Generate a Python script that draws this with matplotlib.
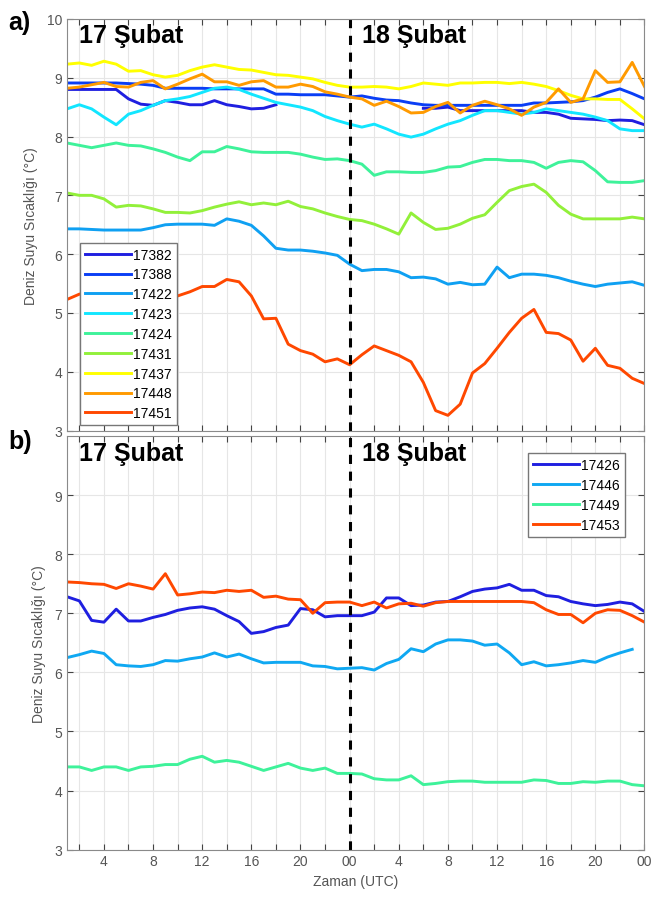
import matplotlib.pyplot as plt
import numpy as np

plt.rcParams['font.family'] = ['Liberation Sans', 'DejaVu Sans']

nan = np.nan
saat = np.arange(1, 49)

# panel a
s17382 = [8.80, 8.80, 8.80, 8.80, 8.80, 8.64, 8.55, 8.53, 8.61, 8.58, 8.54, 8.54, 8.61, 8.54, 8.51, 8.47,
          8.48, 8.54, nan, nan, nan, nan, nan, nan, nan, nan, nan, nan, nan, 8.48, 8.48, 8.50,
          8.44, 8.44, 8.44, 8.44, 8.44, 8.44, 8.41, 8.41, 8.38, 8.31, 8.30, 8.29, 8.27, 8.28, 8.27, 8.20]
s17388 = [8.91, 8.91, 8.91, 8.91, 8.91, 8.90, 8.89, 8.87, 8.82, 8.82, 8.82, 8.82, 8.81, 8.81, 8.81, 8.81,
          8.81, 8.72, 8.72, 8.71, 8.71, 8.71, 8.69, 8.67, 8.69, 8.65, 8.62, 8.61, 8.57, 8.54, 8.53, 8.53,
          8.53, 8.53, 8.53, 8.53, 8.53, 8.53, 8.57, 8.57, 8.58, 8.59, 8.61, 8.67, 8.75, 8.81, 8.73, 8.64]
s17422 = [6.43, 6.43, 6.42, 6.41, 6.41, 6.41, 6.41, 6.45, 6.50, 6.51, 6.51, 6.51, 6.49, 6.60, 6.56, 6.49,
          6.31, 6.10, 6.07, 6.07, 6.05, 6.02, 5.98, 5.83, 5.72, 5.74, 5.74, 5.70, 5.60, 5.61, 5.58, 5.49,
          5.52, 5.48, 5.49, 5.78, 5.60, 5.66, 5.66, 5.64, 5.60, 5.54, 5.49, 5.45, 5.49, 5.51, 5.53, 5.47]
s17423 = [8.47, 8.54, 8.47, 8.33, 8.20, 8.38, 8.44, 8.53, 8.61, 8.64, 8.68, 8.75, 8.82, 8.84, 8.80, 8.72,
          8.65, 8.58, 8.54, 8.50, 8.44, 8.34, 8.27, 8.21, 8.16, 8.21, 8.13, 8.04, 7.99, 8.04, 8.13, 8.21,
          8.27, 8.36, 8.44, 8.44, 8.41, 8.38, 8.41, 8.47, 8.44, 8.41, 8.38, 8.33, 8.27, 8.13, 8.10, 8.10]
s17424 = [7.89, 7.85, 7.81, 7.85, 7.89, 7.85, 7.84, 7.79, 7.73, 7.65, 7.59, 7.74, 7.74, 7.83, 7.79, 7.74,
          7.73, 7.73, 7.73, 7.70, 7.65, 7.61, 7.62, 7.59, 7.53, 7.34, 7.40, 7.40, 7.39, 7.39, 7.42, 7.48,
          7.49, 7.56, 7.61, 7.61, 7.59, 7.59, 7.56, 7.46, 7.56, 7.59, 7.57, 7.42, 7.23, 7.22, 7.22, 7.25]
s17431 = [7.04, 7.00, 7.00, 6.94, 6.80, 6.83, 6.82, 6.77, 6.71, 6.71, 6.70, 6.74, 6.80, 6.85, 6.89, 6.84,
          6.87, 6.84, 6.90, 6.81, 6.77, 6.70, 6.64, 6.59, 6.57, 6.51, 6.43, 6.34, 6.70, 6.54, 6.42, 6.44,
          6.51, 6.61, 6.67, 6.88, 7.08, 7.15, 7.19, 7.05, 6.83, 6.68, 6.60, 6.60, 6.60, 6.60, 6.63, 6.60]
s17437 = [9.23, 9.25, 9.21, 9.28, 9.23, 9.11, 9.12, 9.05, 9.01, 9.04, 9.12, 9.18, 9.22, 9.18, 9.14, 9.13,
          9.09, 9.05, 9.04, 9.01, 8.98, 8.92, 8.87, 8.84, 8.84, 8.85, 8.84, 8.81, 8.85, 8.91, 8.89, 8.87,
          8.91, 8.91, 8.92, 8.92, 8.90, 8.92, 8.89, 8.85, 8.78, 8.70, 8.64, 8.64, 8.63, 8.63, 8.47, 8.30]
s17448 = [8.82, 8.84, 8.88, 8.92, 8.85, 8.84, 8.92, 8.95, 8.81, 8.89, 8.98, 9.06, 8.93, 8.93, 8.87, 8.93,
          8.95, 8.84, 8.84, 8.89, 8.85, 8.76, 8.72, 8.67, 8.64, 8.53, 8.60, 8.51, 8.40, 8.41, 8.51, 8.58,
          8.40, 8.53, 8.60, 8.54, 8.47, 8.36, 8.50, 8.58, 8.81, 8.58, 8.64, 9.12, 8.92, 8.93, 9.26, 8.85]
s17451 = [5.23, 5.32, 5.35, 5.30, 5.26, 5.22, 5.20, 5.20, 5.23, 5.29, 5.36, 5.45, 5.45, 5.57, 5.53, 5.29,
          4.90, 4.91, 4.47, 4.36, 4.30, 4.17, 4.22, 4.12, 4.29, 4.44, 4.36, 4.28, 4.17, 3.82, 3.34, 3.26,
          3.45, 3.98, 4.14, 4.40, 4.67, 4.91, 5.06, 4.67, 4.65, 4.54, 4.18, 4.40, 4.11, 4.06, 3.89, 3.80]

# panel b
s17426 = [7.28, 7.21, 6.88, 6.85, 7.07, 6.87, 6.87, 6.93, 6.98, 7.05, 7.09, 7.11, 7.07, 6.96, 6.86, 6.66,
          6.69, 6.76, 6.80, 7.08, 7.06, 6.94, 6.96, 6.96, 6.96, 7.02, 7.26, 7.26, 7.13, 7.14, 7.19, 7.20,
          7.28, 7.37, 7.41, 7.43, 7.49, 7.39, 7.39, 7.30, 7.28, 7.20, 7.16, 7.13, 7.15, 7.19, 7.16, 7.03]
s17446 = [6.25, 6.30, 6.36, 6.32, 6.13, 6.11, 6.10, 6.13, 6.20, 6.19, 6.23, 6.26, 6.33, 6.26, 6.31, 6.23,
          6.16, 6.17, 6.17, 6.17, 6.11, 6.10, 6.06, 6.07, 6.08, 6.04, 6.15, 6.22, 6.40, 6.35, 6.48, 6.55,
          6.55, 6.53, 6.46, 6.48, 6.33, 6.13, 6.18, 6.11, 6.13, 6.16, 6.20, 6.17, 6.26, 6.33, 6.39, nan]
s17449 = [4.40, 4.40, 4.34, 4.40, 4.40, 4.34, 4.40, 4.41, 4.44, 4.44, 4.53, 4.58, 4.48, 4.51, 4.48, 4.41,
          4.34, 4.40, 4.46, 4.38, 4.34, 4.38, 4.29, 4.29, 4.28, 4.20, 4.18, 4.18, 4.25, 4.10, 4.12, 4.15,
          4.16, 4.16, 4.14, 4.14, 4.14, 4.14, 4.18, 4.17, 4.12, 4.12, 4.15, 4.14, 4.16, 4.16, 4.10, 4.08]
s17453 = [7.53, 7.52, 7.50, 7.49, 7.42, 7.50, 7.46, 7.41, 7.67, 7.31, 7.33, 7.36, 7.35, 7.39, 7.37, 7.39,
          7.27, 7.29, 7.24, 7.23, 7.00, 7.18, 7.19, 7.19, 7.13, 7.19, 7.09, 7.16, 7.17, 7.12, 7.18, 7.20,
          7.20, 7.20, 7.20, 7.20, 7.20, 7.20, 7.18, 7.06, 6.98, 6.98, 6.84, 7.00, 7.06, 7.05, 6.96, 6.85]

seriler_a = [("17382", s17382, '#1f1fe0'), ("17388", s17388, '#0a3ef5'), ("17422", s17422, '#0fa0f2'),
             ("17423", s17423, '#12e6ff'), ("17424", s17424, '#3ef29a'), ("17431", s17431, '#92f03a'),
             ("17437", s17437, '#ffff00'), ("17448", s17448, '#ff9a00'), ("17451", s17451, '#ff4800')]
seriler_b = [("17426", s17426, '#1f1fe0'), ("17446", s17446, '#0fa8f2'),
             ("17449", s17449, '#3ef29a'), ("17453", s17453, '#ff4800')]

xlabels = ["4", "8", "12", "16", "20", "00", "4", "8", "12", "16", "20", "00"]

fig = plt.figure(figsize=(6.51, 9.03), dpi=100)
ax1 = fig.add_axes([0.103, 0.522, 0.887, 0.456])
ax2 = fig.add_axes([0.103, 0.058, 0.887, 0.458])

gri = '#555555'
for ax, seriler in [(ax1, seriler_a), (ax2, seriler_b)]:
    for ad, s, renk in seriler:
        ax.plot(saat, s, color=renk, lw=2.1, label=ad)
    ax.axvline(24, color='black', ls=(0, (3, 2.5)), lw=2.2)
    ax.set_xlim(1, 48)
    ax.set_ylim(3, 10)
    ax.set_xticks(np.arange(2, 49, 2))
    ax.set_xticklabels(["" if t % 4 else xlabels[t // 4 - 1] for t in range(2, 49, 2)])
    ax.grid(True, color='#e6e6e6', lw=0.8)
    ax.set_axisbelow(True)
    ax.tick_params(direction='in', top=True, right=True, length=4, colors='#444444',
                   labelcolor=gri, labelsize=10)
    for sp in ax.spines.values():
        sp.set_color('#8a8a8a')
    ax.set_ylabel("Deniz Suyu Sıcaklığı (°C)", color=gri, fontsize=10, labelpad=6)
    ax.text(2.0, 9.72, "17 Şubat", fontsize=18, fontweight='bold', va='center')
    ax.text(25.0, 9.72, "18 Şubat", fontsize=18, fontweight='bold', va='center')

ax1.set_yticks(np.arange(3, 11))
ax1.tick_params(labelbottom=False)
ax2.set_yticks(np.arange(3, 10))
ax2.set_xlabel("Zaman (UTC)", color=gri, fontsize=10)

leg1 = ax1.legend(loc='lower left', bbox_to_anchor=(0.013, 0.0), fontsize=10, handlelength=3.3,
                  labelspacing=0.42, borderpad=0.35, handletextpad=0.15, borderaxespad=0.4,
                  fancybox=False, framealpha=1, edgecolor='#777777')
leg2 = ax2.legend(loc='upper right', bbox_to_anchor=(0.978, 0.975), fontsize=10, handlelength=3.3,
                  labelspacing=0.42, borderpad=0.35, handletextpad=0.15,
                  fancybox=False, framealpha=1, edgecolor='#777777')

fig.text(0.013, 0.975, "a)", fontsize=18, fontweight='bold', va='center')
fig.text(0.013, 0.511, "b)", fontsize=18, fontweight='bold', va='center')

fig.savefig("out.png", dpi=100)
